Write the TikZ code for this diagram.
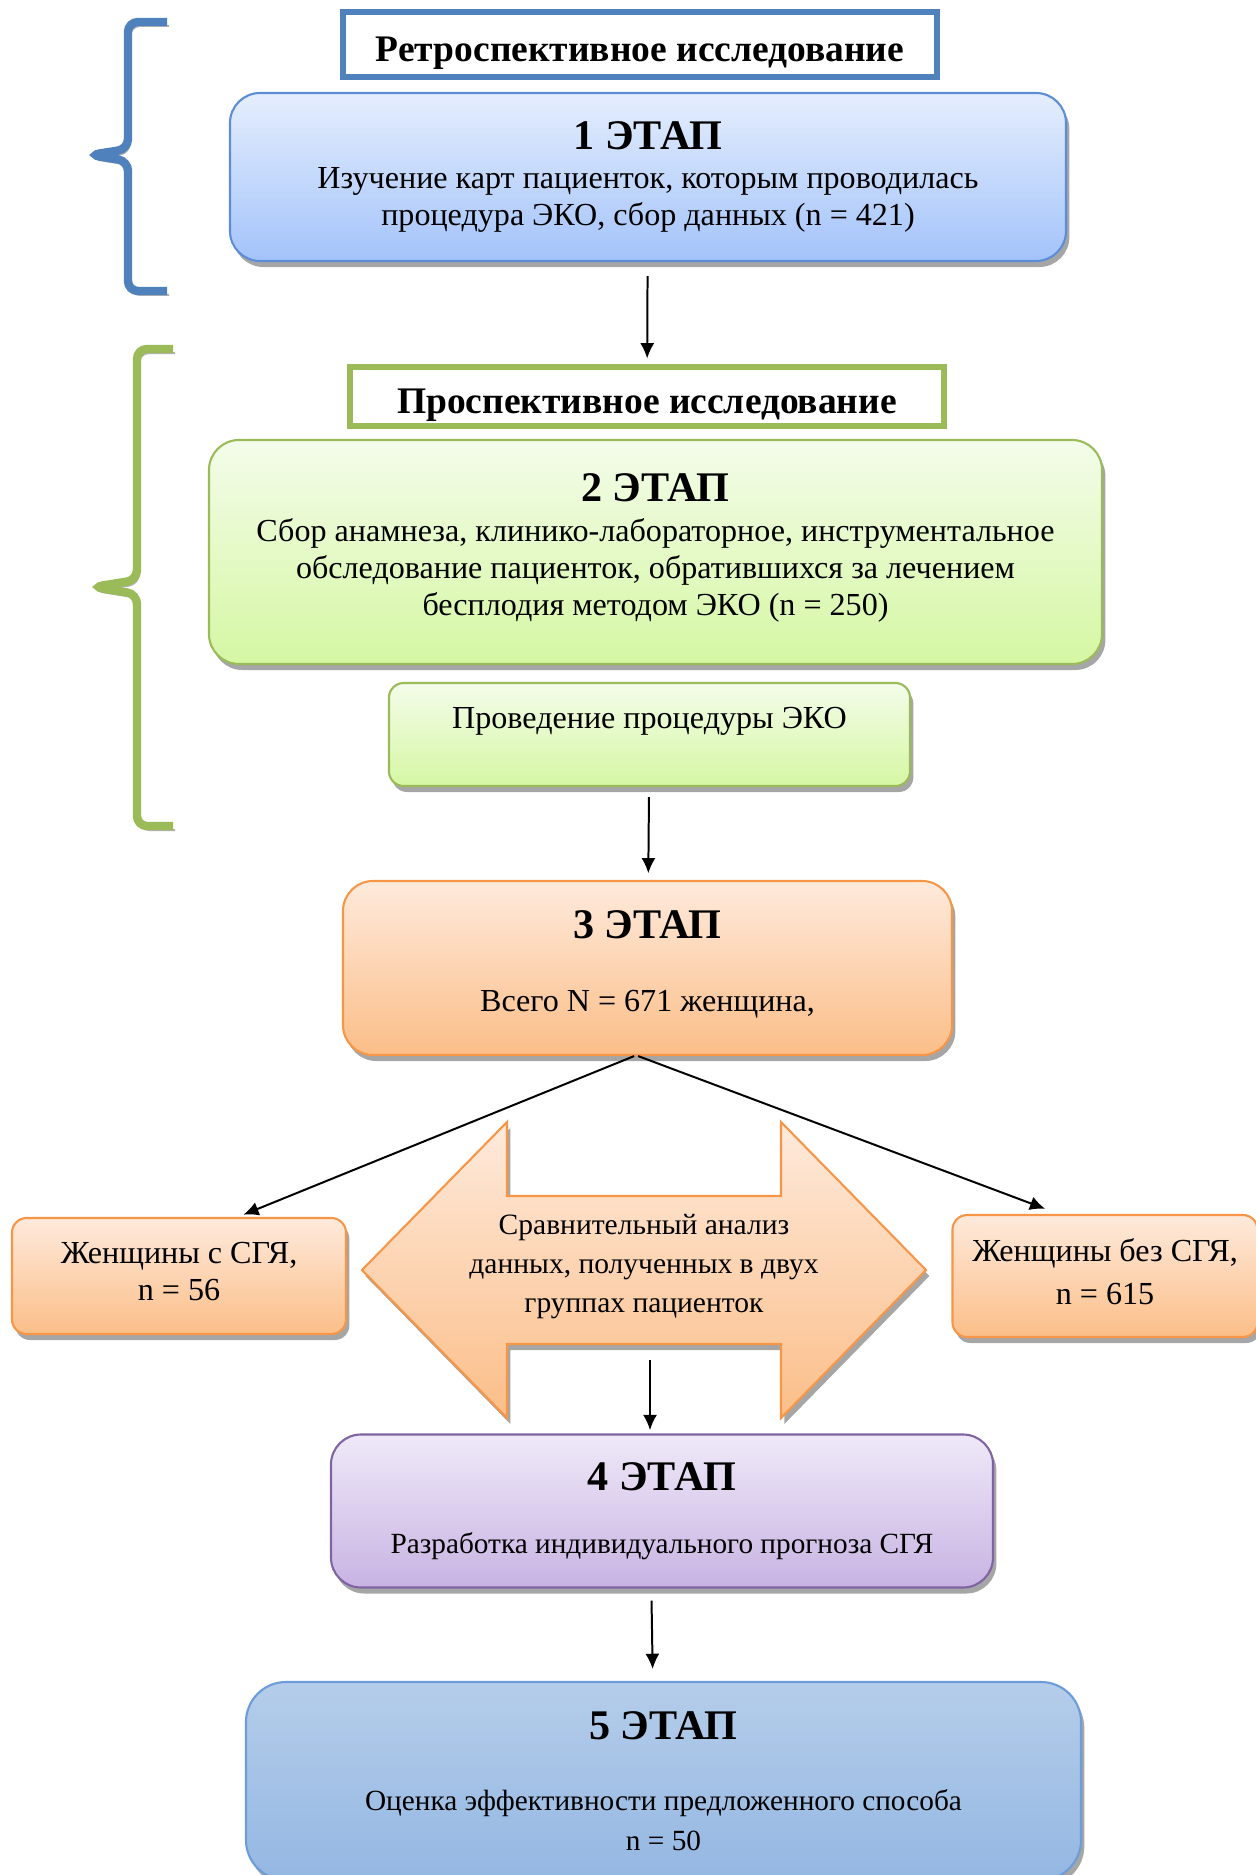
\documentclass[tikz,border=0pt]{standalone}
\usepackage{fontspec}
\setmainfont{Liberation Serif}
\usetikzlibrary{arrows.meta, shadows, backgrounds, calc}

\definecolor{retroblue}{HTML}{4F81BD}
\definecolor{prospgreen}{HTML}{9BBB59}

\newcommand\stagehead[1]{{\fontsize{18}{18}\selectfont\bfseries #1 ЭТАП}}

\tikzset{
  every stage/.style={draw, line width=0.9pt, rounded corners=0.45cm, align=center,
    font=\fontsize{13.7}{15.8}\selectfont,
    drop shadow={shadow xshift=0.05cm, shadow yshift=-0.09cm, fill=black!35, opacity=1}},
  stage 1/.style={draw={rgb,255:red,92;green,141;blue,214}, top color={rgb,255:red,229;green,238;blue,253}, bottom color={rgb,255:red,163;green,195;blue,250}},
  stage 2/.style={draw=prospgreen, top color={rgb,255:red,244;green,252;blue,234}, bottom color={rgb,255:red,213;green,247;blue,163}},
  stage 3/.style={draw={rgb,255:red,247;green,150;blue,70}, top color={rgb,255:red,254;green,234;blue,220}, bottom color={rgb,255:red,251;green,190;blue,136}},
  stage 4/.style={draw={rgb,255:red,128;green,100;blue,162}, top color={rgb,255:red,239;green,233;blue,248}, bottom color={rgb,255:red,200;green,179;blue,227}},
  stage 5/.style={draw={rgb,255:red,108;green,157;blue,217}, top color={rgb,255:red,181;green,205;blue,234}, bottom color={rgb,255:red,148;green,183;blue,226}},
  every title/.style={draw, line width=2.2pt, fill=white, text height=0.5cm, text depth=0pt,
    font=\fontsize{16}{18}\selectfont\bfseries},
  brace/.style={line width=3.6pt, rounded corners=0.15cm,
    preaction={draw=black!30, transform canvas={shift={(2,4)}}}},
}

\begin{document}
\begin{tikzpicture}[x=0.015cm, y=-0.015cm, >={Latex[length=6.5pt,width=6pt]}, line width=0.85pt]
        \useasboundingbox (0,0) rectangle (1256,1875);
        
        % braces
        \draw [brace, draw=retroblue] (167,22) -- (128,22) -- (128,149) -- (90,155) -- (128,161) -- (128,291) -- (167,291);
        \draw [brace, draw=prospgreen] (173,349) -- (137,349) -- (137,580) -- (93,587) -- (137,594) -- (137,826) -- (173,826);
        
        % titles
        \node [every title/.try, draw=retroblue, minimum width=8.91cm, minimum height=0.975cm] (title-1) at (640,44.5) {Ретроспективное исследование};
        \node [every title/.try, draw=prospgreen, minimum width=8.91cm, minimum height=0.885cm] (title-2) at (647,396.5) {Проспективное исследование};
        
        % stages
        \node [every stage/.try, stage 1/.try, minimum width=12.54cm, minimum height=2.52cm] (stage-1) at (648,177)
        {\stagehead{1}\\[0.7pt]Изучение карт пациенток, которым проводилась\\процедура ЭКО, сбор данных (n = 421)};
        
        \node [every stage/.try, stage 2/.try, minimum width=13.395cm, minimum height=3.36cm, text depth=0.23cm] (stage-2) at (655.5,552)
        {\stagehead{2}\\[1.1pt]Сбор анамнеза, клинико-лабораторное, инструментальное\\обследование пациенток, обратившихся за лечением\\бесплодия методом ЭКО (n = 250)};
        
        \node [every stage/.try, stage 2/.try, rounded corners=0.22cm, minimum width=7.815cm, minimum height=1.545cm, text height=0.35cm, text depth=0.52cm] (eko) at (649.5,734.5)
        {Проведение процедуры ЭКО};
        
        \node [every stage/.try, stage 3/.try, minimum width=9.135cm, minimum height=2.61cm, text depth=0.2cm] (stage-3) at (647.5,968)
        {\stagehead{3}\\[15.2pt]Всего N = 671 женщина,};
        
        \node [every stage/.try, stage 3/.try, rounded corners=0.22cm, minimum width=5.01cm, minimum height=1.74cm, text depth=0.15cm] (group-1) at (179,1276)
        {Женщины с СГЯ,\\n = 56};
        
        \node [every stage/.try, stage 3/.try, rounded corners=0.22cm, minimum width=4.575cm, minimum height=1.83cm, text depth=0.13cm] (group-2) at (1105,1276)
        {Женщины без СГЯ,\\[2.5pt]n = 615};
        
        \node [font=\fontsize{12.6}{16.6}\selectfont, align=center, inner xsep=0pt, minimum height=2.22cm, text depth=0.21cm] (compare) at (644,1270)
        {Сравнительный анализ\\данных, полученных в двух\\группах пациенток};
        
        \node [every stage/.try, stage 4/.try, minimum width=9.93cm, minimum height=2.295cm] (stage-4) at (662,1511)
        {\stagehead{4}\\[10.9pt]{\fontsize{12.5}{15}\selectfont Разработка индивидуального прогноза СГЯ}};
        
        \node [every stage/.try, stage 5/.try, rounded corners=0.6cm, minimum width=12.525cm, minimum height=2.97cm] (stage-5) at (663.5,1781)
        {\stagehead{5}\\[14.7pt]{\fontsize{12.5}{15}\selectfont Оценка эффективности предложенного способа}\\[1.2pt]{\fontsize{12.5}{15}\selectfont n = 50}};
        
        % double arrow behind the comparison
        \begin{scope}[on background layer]
        \draw [stage 3/.try, line width=0.9pt, drop shadow={shadow xshift=0.05cm, shadow yshift=-0.09cm, fill=black!35, opacity=1}]
        (compare.center) ++(-137,-74) -- ++(0,-74) -- ++(-145,148) -- ++(145,148) -- ++(0,-74)
        -- ++(274,0) -- ++(0,74) -- ++(145,-148) -- ++(-145,-148) -- ++(0,74) -- cycle;
        \end{scope}
        
        % arrows
        \draw [->, shorten <=0.21cm, shorten >=0.09cm] (stage-1) -- (title-2);
        \draw [->, shorten <=0.15cm, shorten >=0.1cm] (eko) -- (stage-3);
        \draw [->, shorten >=0.09cm] ([xshift=-0.2cm]stage-3.south) -- ($(group-1.north)!0.35!(group-1.north east)$);
        \draw [->, shorten >=0.22cm] ([xshift=-0.14cm]stage-3.south) -- ($(group-2.north)!0.3!(group-2.north west)$);
        \draw [->, shorten <=0.22cm, shorten >=0.05cm] ([xshift=0.09cm]compare.south) -- ([xshift=0.09cm]compare.south |- stage-4.north);
        \draw [->, shorten <=0.18cm, shorten >=0.18cm] ([xshift=-0.16cm]stage-4.south) -- ([xshift=-0.16cm]stage-5.north);
        
\end{tikzpicture}
\end{document}
